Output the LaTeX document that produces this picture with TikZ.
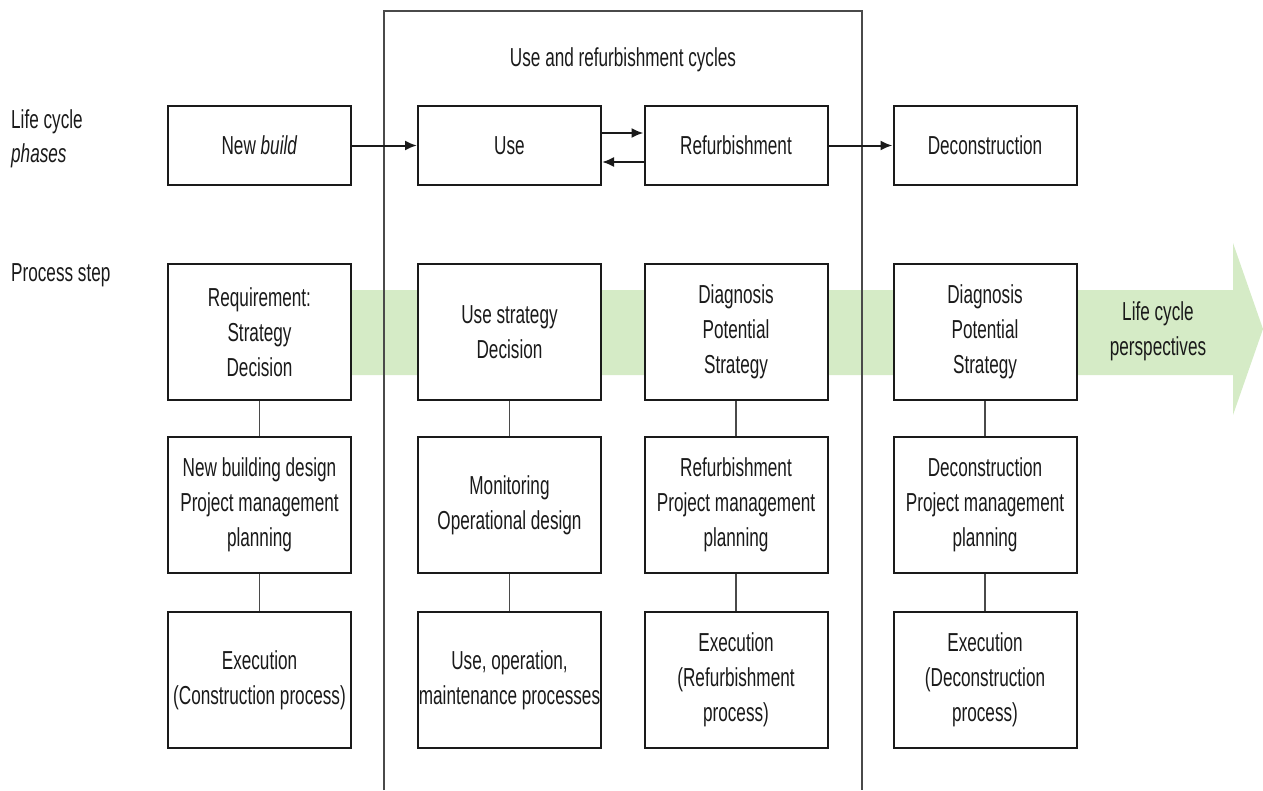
\documentclass[tikz,border=0pt]{standalone}
\usepackage{fontspec}
\setmainfont{Liberation Sans}[FakeStretch=0.66]
\usetikzlibrary{arrows.meta}
\definecolor{bandgreen}{HTML}{D5EBC6}
\definecolor{framegray}{HTML}{4A4A4A}
\definecolor{ink}{HTML}{1A1A1A}
\begin{document}
\begin{tikzpicture}[x=1pt,y=-1pt,
  every node/.style={text=ink,font=\fontsize{26}{35}\selectfont},
  phase/.style={draw=ink,line width=2pt,fill=white,minimum width=183pt,minimum height=79pt,inner sep=0pt,align=center},
  proc/.style={draw=ink,line width=2pt,fill=white,minimum width=183pt,minimum height=136pt,inner sep=0pt,align=center},
  flow/.style={line width=2pt,draw=ink,-{Latex[length=12pt,width=10pt]}},
  link/.style={line width=1.6pt,draw=framegray},
  rowlabel/.style={anchor=north west,align=left,inner sep=0pt,font=\fontsize{26}{34}\selectfont}]
\useasboundingbox (0,0) rectangle (1263,790);

% life cycle perspective band with arrow head
\fill[bandgreen] (351,290) -- (1233,290) -- (1233,243) -- (1263,329) -- (1233,415) -- (1233,375) -- (351,375) -- cycle;
\node (persp) at (1158,331) [align=center] {Life cycle\\perspectives};

% frame of the use and refurbishment cycles
\draw[framegray,line width=1.8pt] (384,790) -- (384,11) -- (862,11) -- (862,790);
\node (cycles) at (623,60) {Use and refurbishment cycles};

% row labels
\node[rowlabel] (lcp) at (11,109) {Life cycle\\\textit{phases}};
\node[rowlabel] (pstep) at (11,263) {Process step};

% life cycle phases
\node[phase] (newbuild) at (259.5,145.5) {New \textit{build}};
\node[phase] (use) at (509.5,145.5) {Use};
\node[phase] (refurb) at (736,145.5) {Refurbishment};
\node[phase] (decon) at (985,145.5) {Deconstruction};

% process steps: strategy
\node[proc] (a1) at (259.5,332) {Requirement:\\Strategy\\Decision};
\node[proc] (b1) at (509.5,332) {Use strategy\\Decision};
\node[proc] (c1) at (736,332) {Diagnosis\\Potential\\Strategy};
\node[proc] (d1) at (985,332) {Diagnosis\\Potential\\Strategy};

% process steps: design and planning
\node[proc] (a2) at (259.5,505) {New building design\\Project management\\planning};
\node[proc] (b2) at (509.5,505) {Monitoring\\Operational design};
\node[proc] (c2) at (736,505) {Refurbishment\\Project management\\planning};
\node[proc] (d2) at (985,505) {Deconstruction\\Project management\\planning};

% process steps: execution
\node[proc] (a3) at (259.5,680) {Execution\\(Construction process)};
\node[proc] (b3) at (509.5,680) {Use, operation,\\maintenance processes};
\node[proc] (c3) at (736,680) {Execution\\(Refurbishment\\process)};
\node[proc] (d3) at (985,680) {Execution\\(Deconstruction\\process)};

% phase transitions
\draw[flow] (newbuild.east) -- (use.west);
\draw[flow] ([yshift=12.5pt]use.east) -- ([yshift=12.5pt]refurb.west);
\draw[flow] ([yshift=-16.5pt]refurb.west) -- ([yshift=-16.5pt]use.east);
\draw[flow] (refurb.east) -- (decon.west);

% links between process steps
\foreach \c in {a,b,c,d}{
  \draw[link] (\c1.south) -- (\c2.north);
  \draw[link] (\c2.south) -- (\c3.north);
}
\end{tikzpicture}
\end{document}
